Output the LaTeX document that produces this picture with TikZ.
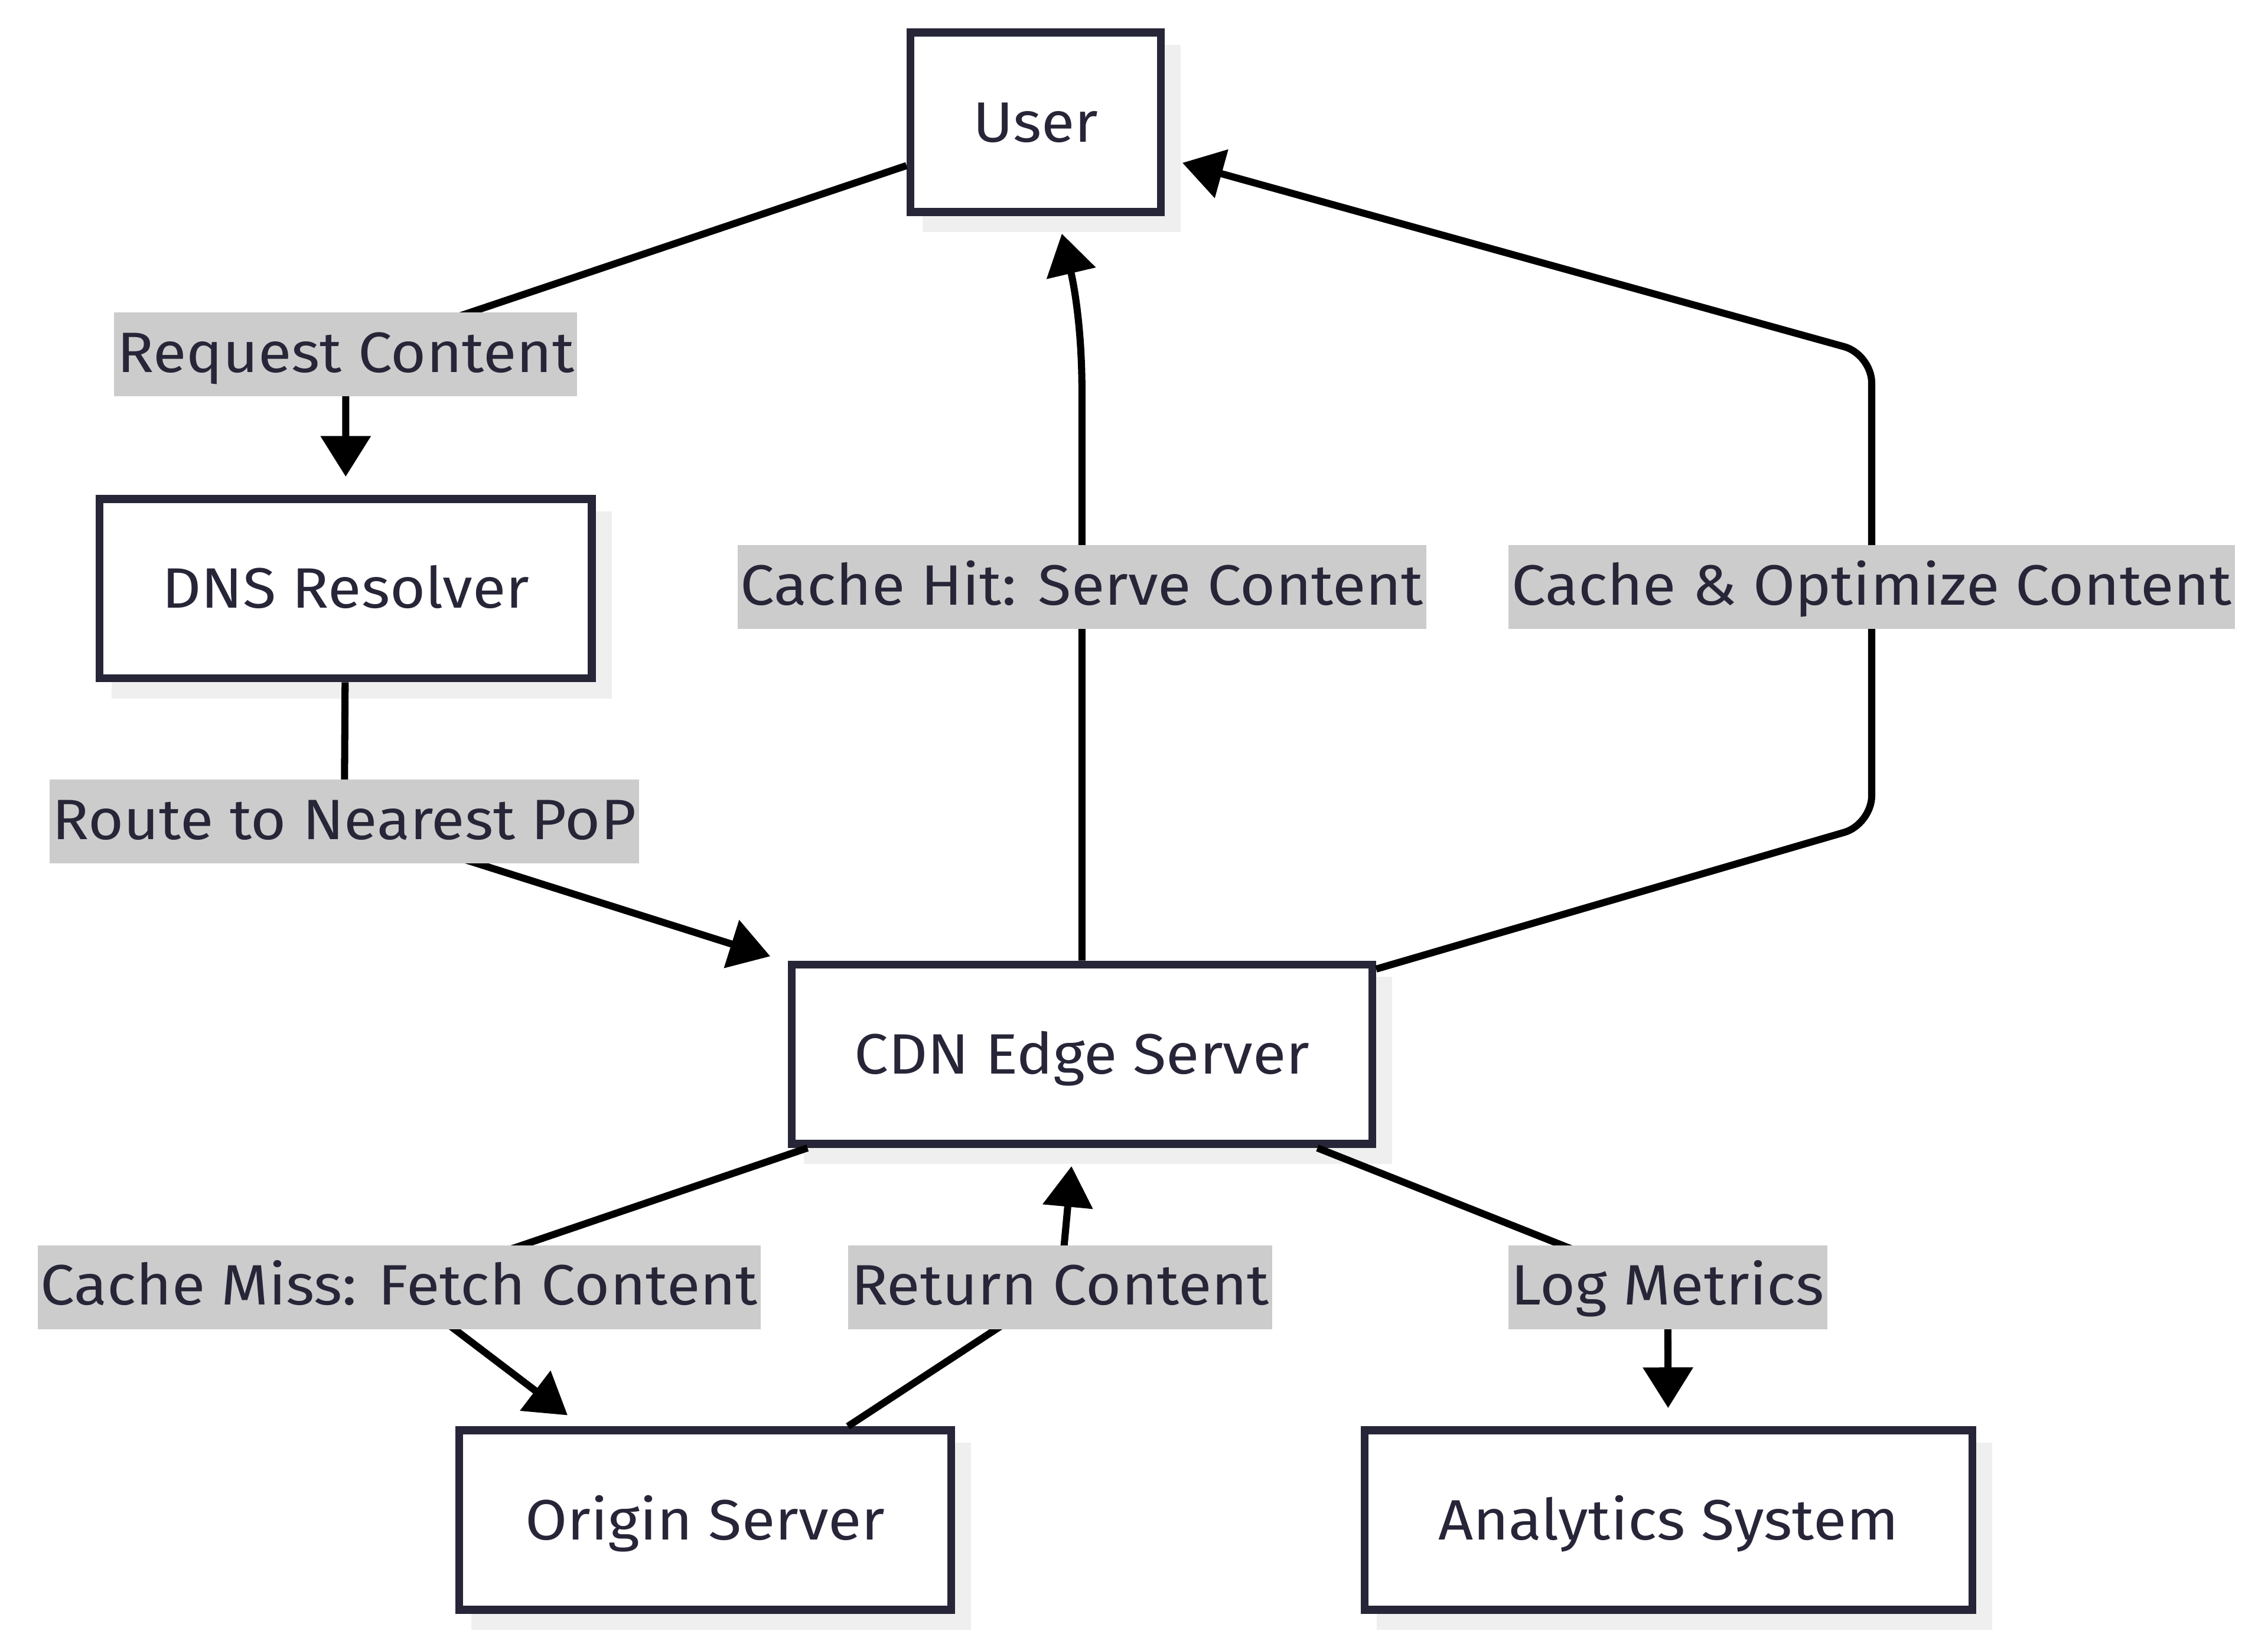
\documentclass[tikz,border=0pt]{standalone}
\usepackage{fontspec}
\setmainfont{Fira Sans}[FakeStretch=1.07]
\usetikzlibrary{arrows.meta,shadows}

\definecolor{nodeline}{HTML}{272638}
\definecolor{labelbg}{HTML}{CCCCCC}
\definecolor{shadowgray}{HTML}{EFEFEF}

\tikzset{
  box/.style={draw=nodeline, line width=3.9pt, fill=white, text=nodeline,
    minimum height=3.1cm, inner xsep=1.08cm, text height=19.3pt, text depth=0pt,
    font=\fontsize{28}{34}\selectfont,
    drop shadow={shadow xshift=0.28cm, shadow yshift=-0.28cm, fill=shadowgray,
      draw=shadowgray, line width=3.9pt, opacity=1}},
  lbl/.style={fill=labelbg, text=nodeline, inner xsep=0.05cm, inner ysep=0pt,
    text height=29.4pt, text depth=11.8pt, font=\fontsize{28}{34}\selectfont},
  flow/.style={draw=black, line width=3.5pt, rounded corners=14pt,
    -{Triangle[length=20pt,width=24pt]}, shorten >=9pt}
}

\begin{document}
\begin{tikzpicture}[x=0.025cm, y=-0.025cm]
	\useasboundingbox (0,0) rectangle (1568,1138.8);
	% boxes
	\node[box] (user) at (716,84.5) {User};
	\node[box] (dns) at (239,407) {DNS Resolver};
	\node[box] (cdn) at (748,729) {CDN Edge Server};
	\node[box, minimum width=8.5cm] (origin) at (487.5,1051) {Origin Server};
	\node[box, minimum width=10.5cm] (analytics) at (1153.5,1051) {Analytics System};
	% where the edge labels sit
	\coordinate (lreq) at (239,245);
	\coordinate (lroute) at (238,568);
	\coordinate (lhit) at (748,406);
	\coordinate (lopt) at (1294,406);
	\coordinate (lmiss) at (276,890);
	\coordinate (lret) at (733,890);
	\coordinate (llog) at (1153,890);
	% edges
	\draw[flow] (user) -- (lreq) -- (dns);
	\draw[flow] (dns) -- (lroute) -- (cdn);
	\draw[flow] (cdn) -- (lhit) -- (748,290) .. controls (748,225) and (742,195) .. (user);
	\draw[flow] (cdn) -- (1294,570) -- (lopt) -- (1294,245) -- (user);
	\draw[flow] (cdn) -- (lmiss) -- (origin);
	\draw[flow] (origin) -- (lret) -- (cdn);
	\draw[flow] (cdn) -- (llog) -- (analytics);
	% labels
	\node[lbl] (reqlbl) at (lreq) {Request Content};
	\node[lbl] (routelbl) at (lroute) {Route to Nearest PoP};
	\node[lbl] (hitlbl) at (lhit) {Cache Hit: Serve Content};
	\node[lbl] (optlbl) at (lopt) {Cache \& Optimize Content};
	\node[lbl] (misslbl) at (lmiss) {Cache Miss: Fetch Content};
	\node[lbl] (retlbl) at (lret) {Return Content};
	\node[lbl] (loglbl) at (llog) {Log Metrics};
\end{tikzpicture}
\end{document}
